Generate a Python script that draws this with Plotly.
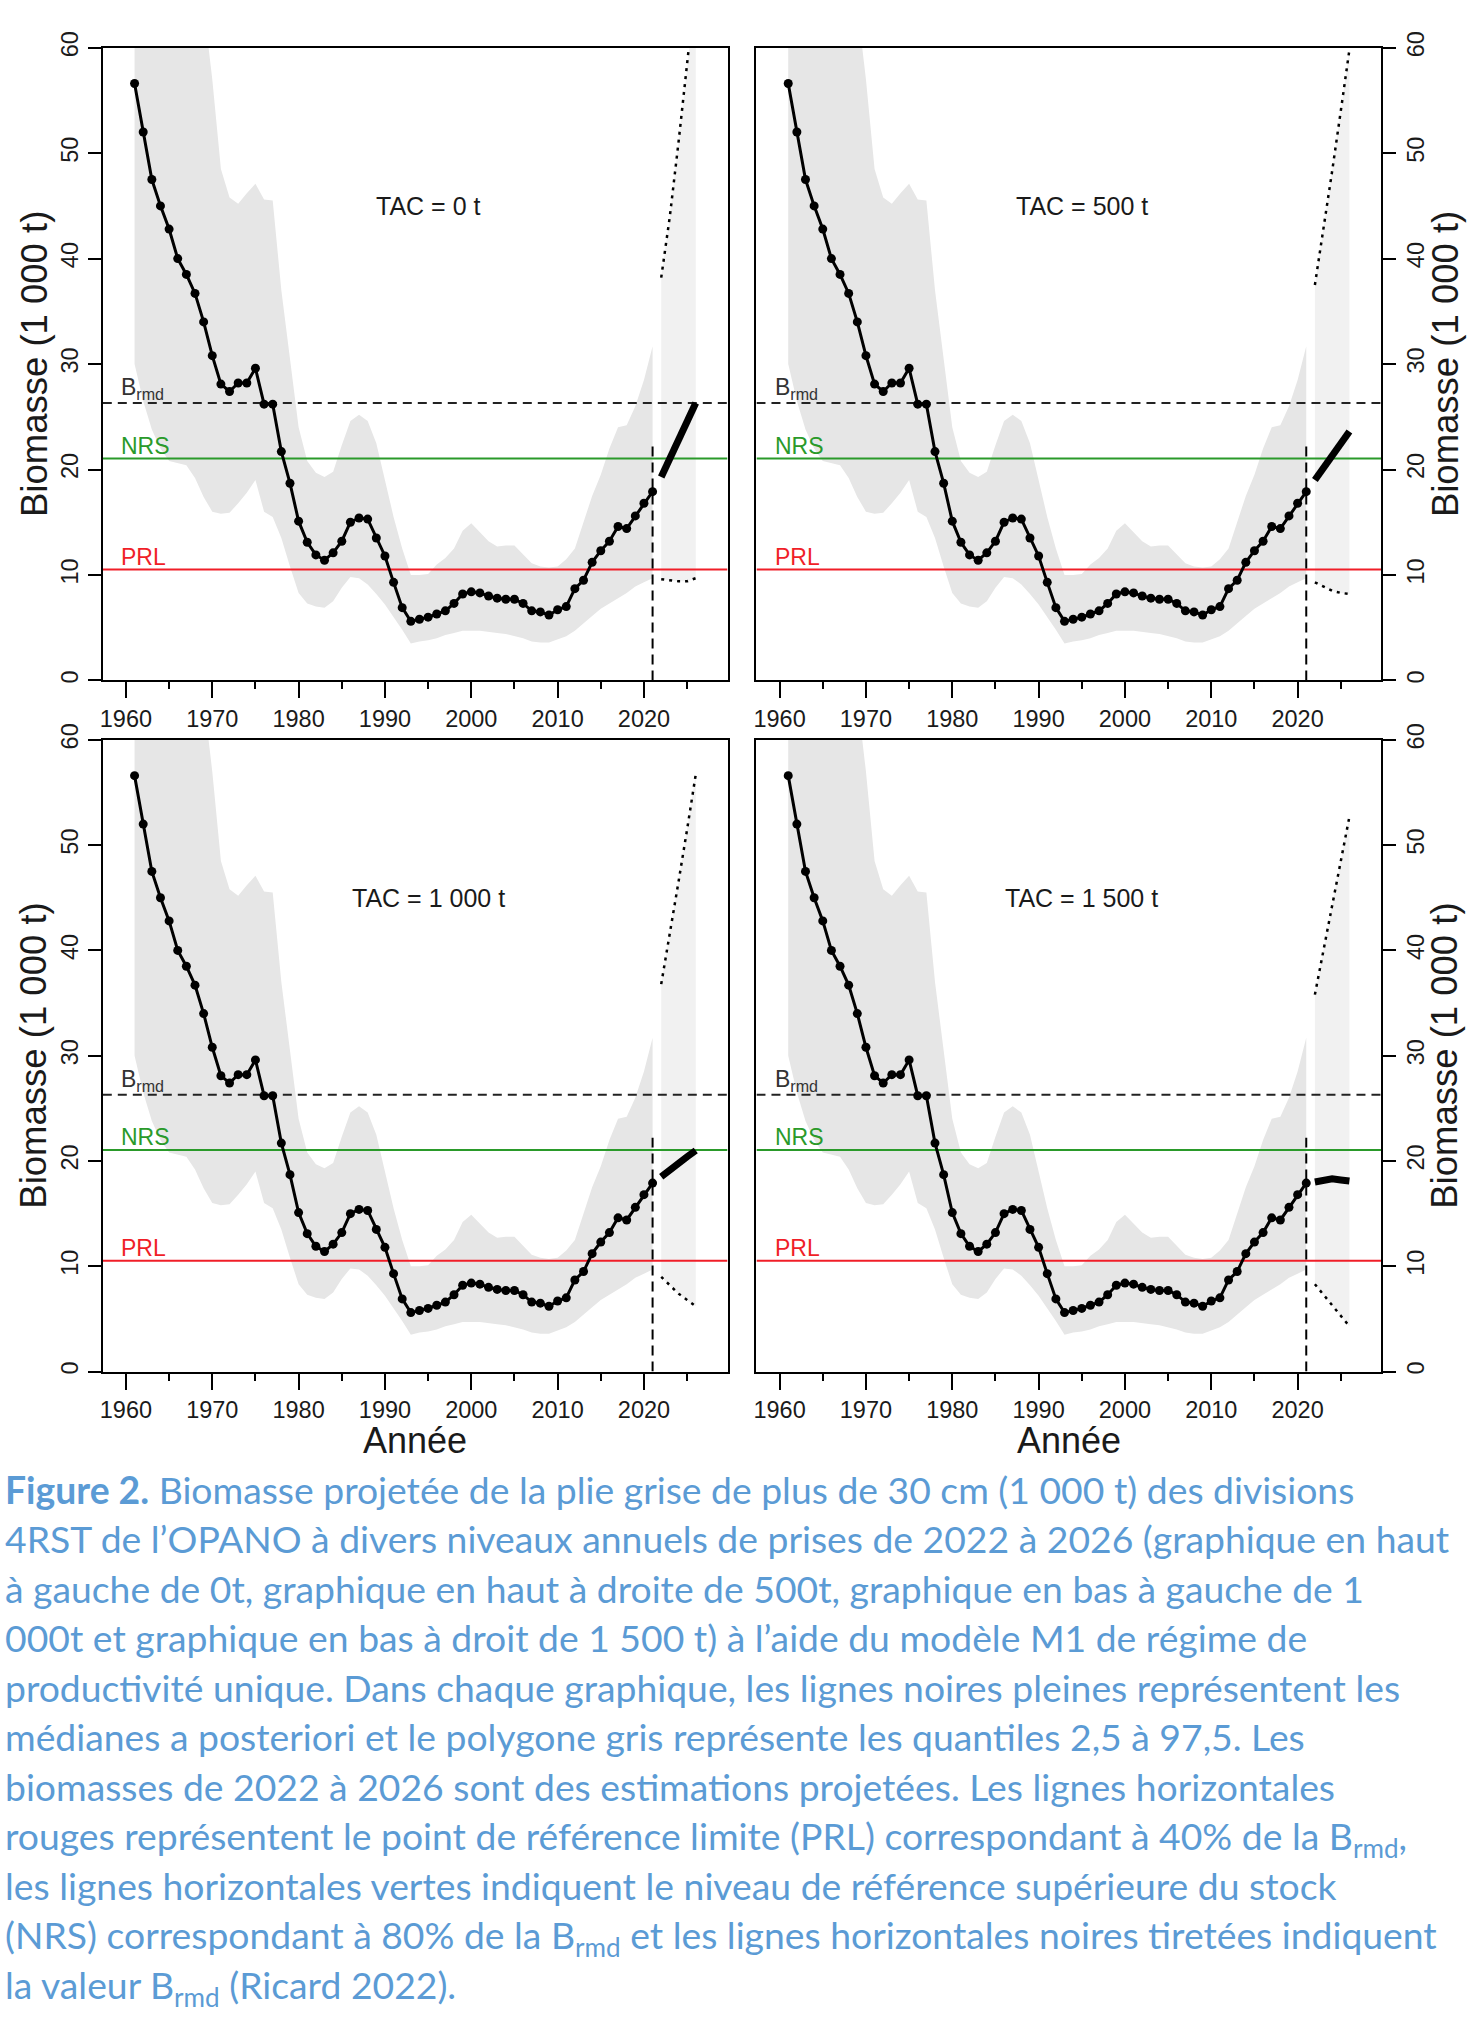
import plotly.graph_objects as go

W, H = 1474, 2037

# historical posterior medians and 2.5-97.5 quantiles (1 000 t)
years = list(range(1961, 2022))
median = [56.6, 52.0, 47.5, 45.0, 42.8, 40.0, 38.5, 36.7, 34.0, 30.8,
          28.1, 27.4, 28.2, 28.2, 29.6, 26.2, 26.2, 21.7, 18.7, 15.1,
          13.1, 11.9, 11.4, 12.1, 13.2, 15.0, 15.4, 15.3, 13.5, 11.8,
          9.3, 6.9, 5.6, 5.8, 6.0, 6.3, 6.6, 7.3, 8.2, 8.4,
          8.3, 8.0, 7.8, 7.7, 7.7, 7.3, 6.6, 6.5, 6.2, 6.7,
          7.0, 8.7, 9.5, 11.2, 12.3, 13.2, 14.6, 14.4, 15.6, 16.8, 17.9]
upper = [80, 78, 76, 74, 72, 70, 68, 66, 64, 57,
         48.5, 45.8, 45.2, 46.2, 47.1, 45.6, 45.5, 37.0, 30.5, 24.0,
         20.8, 19.7, 19.3, 19.8, 22.3, 24.6, 25.2, 24.6, 22.5, 19.0,
         15.5, 12.5, 10.0, 10.0, 10.1, 11.0, 11.6, 12.5, 14.2, 14.9,
         14.0, 13.2, 12.7, 12.8, 12.8, 12.0, 11.1, 10.8, 10.7, 10.8,
         11.5, 12.5, 15.0, 17.5, 19.5, 22.0, 24.0, 24.2, 26.0, 28.5, 31.7]
lower = [30.0, 26.5, 23.8, 22.0, 20.8, 20.6, 20.4, 19.2, 17.4, 16.0,
         15.8, 15.9, 16.8, 17.8, 19.0, 16.0, 15.5, 13.5, 10.8, 8.3,
         7.3, 7.0, 6.9, 7.5, 8.8, 9.8, 9.7, 9.1, 8.2, 7.2,
         6.0, 4.8, 3.5, 3.7, 3.8, 4.0, 4.3, 4.5, 4.7, 4.7,
         4.7, 4.6, 4.5, 4.4, 4.2, 4.0, 3.7, 3.6, 3.6, 3.9,
         4.2, 4.7, 5.4, 6.1, 6.8, 7.3, 7.8, 8.3, 8.9, 9.3, 9.7]

# projections 2022-2026 for each TAC scenario
proj_years = [2022, 2023, 2024, 2025, 2026]
tac_labels = ["TAC = 0 t", "TAC = 500 t", "TAC = 1 000 t", "TAC = 1 500 t"]
proj_median = [[19.3, 21.0, 22.8, 24.6, 26.3],
               [19.0, 20.2, 21.3, 22.5, 23.6],
               [18.5, 19.2, 19.8, 20.4, 21.0],
               [18.0, 18.1, 18.3, 18.2, 18.1]]
proj_upper = [[38.2, 44.0, 51.0, 58.0, 66.0],
              [37.5, 42.8, 48.3, 54.0, 59.8],
              [36.8, 41.5, 46.5, 51.5, 56.7],
              [35.8, 40.0, 44.3, 48.5, 52.7]]
proj_lower = [[9.6, 9.5, 9.4, 9.4, 9.7],
              [9.3, 8.9, 8.5, 8.3, 8.2],
              [9.0, 8.2, 7.4, 6.8, 6.2],
              [8.3, 7.3, 6.3, 5.3, 4.3]]

# reference points
b_rmd = 26.3
nrs = 0.8 * b_rmd
prl = 0.4 * b_rmd
ref_labels = ["B<sub>rmd</sub>", "NRS", "PRL"]
vline_top = 22.2

x_range = [1957.32, 2029.68]
y_range = [0, 60]

# panel boxes in pixels (left, right), (top, bottom)
panels_x = [(100, 726), (755, 1381), (100, 726), (755, 1381)]
panels_y = [(31, 670), (31, 670), (730, 1368), (730, 1368)]

caption = [
    "<b>Figure 2.</b> Biomasse projetée de la plie grise de plus de 30 cm (1 000 t) des divisions",
    "4RST de l’OPANO à divers niveaux annuels de prises de 2022 à 2026 (graphique en haut",
    "à gauche de 0t, graphique en haut à droite de 500t, graphique en bas à gauche de 1",
    "000t et graphique en bas à droit de 1 500 t) à l’aide du modèle M1 de régime de",
    "productivité unique. Dans chaque graphique, les lignes noires pleines représentent les",
    "médianes a posteriori et le polygone gris représente les quantiles 2,5 à 97,5. Les",
    "biomasses de 2022 à 2026 sont des estimations projetées. Les lignes horizontales",
    "rouges représentent le point de référence limite (PRL) correspondant à 40% de la B<sub>rmd</sub>,",
    "les lignes horizontales vertes indiquent le niveau de référence supérieure du stock",
    "(NRS) correspondant à 80% de la B<sub>rmd</sub> et les lignes horizontales noires tiretées indiquent",
    "la valeur B<sub>rmd</sub> (Ricard 2022).",
]

INK = "#1a1a1a"
GREEN = "#2a9a2a"
RED = "#f01e28"
BLUE = "#5b9bd5"
AX_FONT = "Liberation Sans, Arial, sans-serif"
CAP_FONT = "Lato, Open Sans, sans-serif"
CAP_SIZE = 37.3
TICK_SIZE = 23.5


def px_x(p):
    return p / W


def px_y(p):
    return 1 - p / H


fig = go.Figure()
layout = {}
annotations = []

for i in range(4):
    n = "" if i == 0 else str(i + 1)
    xa, ya = "x" + n, "y" + n
    right = i % 2 == 1

    # historical 95% band
    fig.add_trace(go.Scatter(x=years + years[::-1], y=upper + lower[::-1],
                             fill="toself", fillcolor="#e6e6e6", mode="lines",
                             line=dict(width=0), hoverinfo="skip",
                             xaxis=xa, yaxis=ya, showlegend=False))
    # projected band
    fig.add_trace(go.Scatter(x=proj_years + proj_years[::-1],
                             y=proj_upper[i] + proj_lower[i][::-1],
                             fill="toself", fillcolor="#f1f1f1", mode="lines",
                             line=dict(width=0), hoverinfo="skip",
                             xaxis=xa, yaxis=ya, showlegend=False))
    # reference lines
    for val, col, dash in [(b_rmd, "#222222", "9px,6px"), (nrs, GREEN, "solid"),
                           (prl, RED, "solid")]:
        fig.add_trace(go.Scatter(x=x_range, y=[val, val], mode="lines",
                                 line=dict(color=col, width=2, dash=dash),
                                 xaxis=xa, yaxis=ya, showlegend=False))
    # end of assessment
    fig.add_trace(go.Scatter(x=[years[-1], years[-1]], y=[0, vline_top], mode="lines",
                             line=dict(color="black", width=2, dash="10px,6px"),
                             xaxis=xa, yaxis=ya, showlegend=False))
    # projected quantile bounds
    for bound in (proj_upper[i], proj_lower[i]):
        fig.add_trace(go.Scatter(x=proj_years, y=bound, mode="lines",
                                 line=dict(color="black", width=2.5, dash="3px,5px"),
                                 xaxis=xa, yaxis=ya, showlegend=False))
    # medians
    fig.add_trace(go.Scatter(x=years, y=median, mode="lines+markers",
                             line=dict(color="black", width=3),
                             marker=dict(color="black", size=9),
                             xaxis=xa, yaxis=ya, showlegend=False))
    fig.add_trace(go.Scatter(x=proj_years, y=proj_median[i], mode="lines",
                             line=dict(color="black", width=7),
                             xaxis=xa, yaxis=ya, showlegend=False))

    x0, x1 = panels_x[i]
    y0, y1 = panels_y[i]
    layout["xaxis" + n] = dict(
        domain=[px_x(x0), px_x(x1)], anchor=ya, range=x_range,
        tick0=1960, dtick=10, ticks="outside", ticklen=16, tickwidth=2,
        tickcolor="black", showline=True, mirror=True, linecolor="black",
        linewidth=2, showgrid=False, zeroline=False,
        tickfont=dict(family=AX_FONT, size=TICK_SIZE, color=INK),
        minor=dict(dtick=5, tick0=1960, ticks="outside", ticklen=7,
                   tickwidth=2, tickcolor="black", showgrid=False))
    layout["yaxis" + n] = dict(
        domain=[px_y(y1), px_y(y0)], anchor=xa, range=y_range,
        side="right" if right else "left",
        dtick=10, ticks="outside", ticklen=13, tickwidth=2, tickcolor="black",
        tickangle=-90, showline=True, mirror=True, linecolor="black",
        linewidth=2, showgrid=False, zeroline=False,
        tickfont=dict(family=AX_FONT, size=TICK_SIZE, color=INK))

    # scenario label
    annotations.append(dict(x=1995, y=45, xref=xa, yref=ya, text=tac_labels[i],
                            showarrow=False, xanchor="center", yanchor="middle",
                            font=dict(family=AX_FONT, size=25, color=INK)))
    # reference labels
    for lab, val, col, off in [(ref_labels[0], b_rmd, "#333333", 2.95),
                               (ref_labels[1], nrs, GREEN, 2.65),
                               (ref_labels[2], prl, RED, 2.63)]:
        annotations.append(dict(x=1959.2, y=val + off, xref=xa, yref=ya, text=lab,
                                showarrow=False, xanchor="left", yanchor="top",
                                font=dict(family=AX_FONT, size=23, color=col)))
    # y title
    annotations.append(dict(x=px_x(1445 if right else 31), y=px_y((y0 + y1) / 2),
                            xref="paper", yref="paper", text="Biomasse (1 000 t)",
                            textangle=-90, showarrow=False, xanchor="center",
                            yanchor="middle",
                            font=dict(family=AX_FONT, size=36.5, color=INK)))
    if i >= 2:
        annotations.append(dict(x=px_x((x0 + x1) / 2), y=px_y(1438), xref="paper",
                                yref="paper", text="Année", showarrow=False,
                                xanchor="center", yanchor="middle",
                                font=dict(family=AX_FONT, size=36, color=INK)))

# caption, one annotation per line
for k, line in enumerate(caption):
    baseline = 1500 + 50 * k
    annotations.append(dict(x=0, y=px_y(baseline - 0.987 * CAP_SIZE - 1),
                            xref="paper", yref="paper", text=line, showarrow=False,
                            xanchor="left", yanchor="top", align="left",
                            font=dict(family=CAP_FONT, size=CAP_SIZE, color=BLUE)))

fig.update_layout(width=W, height=H, margin=dict(l=0, r=0, t=0, b=0),
                  plot_bgcolor="white", paper_bgcolor="white",
                  annotations=annotations, **layout)

fig.write_html("out.html", config={"displayModeBar": False},
               post_script="document.body.style.margin='0';"
                           "document.body.style.overflow='hidden';")
